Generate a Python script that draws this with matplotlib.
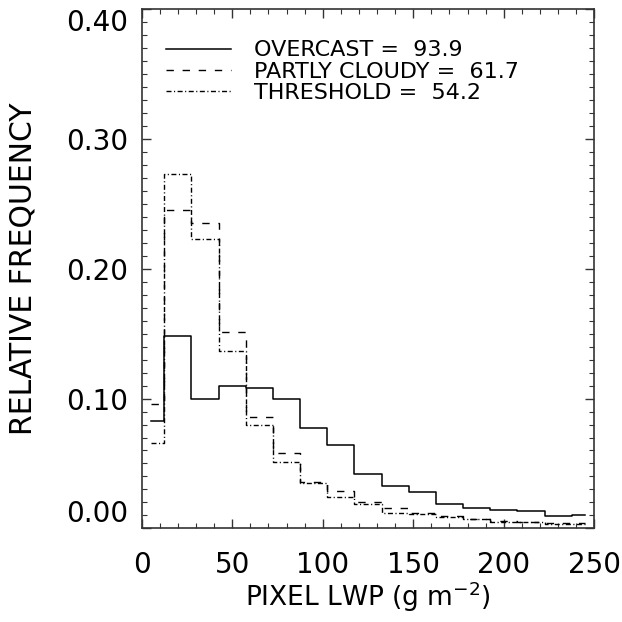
import numpy as np
import matplotlib
matplotlib.use("Agg")
import matplotlib.pyplot as plt

# bin centres (g m-2) and relative frequencies
lwp = [5, 20, 35, 50, 65, 80, 95, 110, 125, 140, 155, 170, 185, 200, 215, 230, 245]
overcast = [0.083, 0.148, 0.100, 0.110, 0.108, 0.100, 0.077, 0.064, 0.042, 0.033,
            0.028, 0.019, 0.016, 0.0145, 0.013, 0.0095, 0.010]
partly = [0.096, 0.245, 0.235, 0.151, 0.0855, 0.058, 0.036, 0.029, 0.0205, 0.016,
          0.012, 0.0097, 0.007, 0.006, 0.005, 0.004, 0.004]
threshold = [0.066, 0.273, 0.223, 0.137, 0.080, 0.051, 0.035, 0.0245, 0.0187, 0.0116,
             0.011, 0.0085, 0.0075, 0.005, 0.0045, 0.003, 0.003]
labels = ["OVERCAST =  93.9", "PARTLY CLOUDY =  61.7", "THRESHOLD =  54.2"]
yticks = [0.0, 0.1, 0.2, 0.3, 0.4]
xticks = [0, 50, 100, 150, 200, 250]

plt.rcParams['font.family'] = ['DejaVu Sans']

fig = plt.figure(figsize=(6.22, 6.22), dpi=100)
ax = fig.add_axes([0.2278, 0.1506, 0.7277, 0.8344])

ax.step(lwp, overcast, where='mid', color='black', lw=1.1, label=labels[0])
ax.step(lwp, partly, where='mid', color='black', lw=1.0, dashes=(5.3, 6.3), label=labels[1])
ax.step(lwp, threshold, where='mid', color='black', lw=1.0,
        dashes=(3.6, 1.8, 0.8, 1.8), label=labels[2])

ax.set_xlim(0, 250)
ax.set_ylim(0, 0.40)
ax.set_xticks(xticks)
ax.set_xticks(np.arange(0, 251, 10), minor=True)
ax.set_yticks(yticks)
ax.set_yticks(np.arange(0, 0.401, 0.01), minor=True)
ax.set_xticklabels([str(v) for v in xticks])
ax.set_yticklabels(["%.2f" % v for v in yticks])

ax.tick_params(which='both', direction='in', top=True, right=True, colors='#333333',
               labelcolor='black')
ax.tick_params(which='major', length=6.5, width=1.0)
ax.tick_params(which='minor', length=3.6, width=0.8)
ax.tick_params(axis='x', which='major', labelsize=20, pad=16)
ax.tick_params(axis='y', which='major', labelsize=20, pad=10)
for sp in ax.spines.values():
    sp.set_color('#333333')
    sp.set_linewidth(1.2)

ylabs = ax.get_yticklabels()
ylabs[0].set_verticalalignment('bottom')
ylabs[-1].set_verticalalignment('top')

ax.set_xlabel("PIXEL LWP (g m$^{-2}$)", fontsize=19, labelpad=1)
ax.set_ylabel("RELATIVE FREQUENCY", fontsize=21.5, labelpad=20)

ax.legend(loc='upper left', bbox_to_anchor=(0.054, 0.94), frameon=False, fontsize=16,
          handlelength=2.9, handletextpad=1.05, labelspacing=0.05, borderpad=0,
          borderaxespad=0)

fig.savefig("out.png", dpi=100)
